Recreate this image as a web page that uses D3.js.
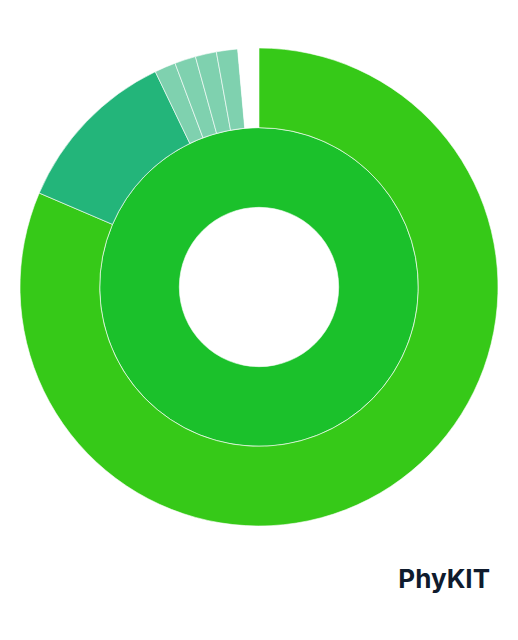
<!DOCTYPE html>
<html>
<head>
<meta charset="utf-8">
<script src="https://cdn.jsdelivr.net/npm/d3@7"></script>
<style>
  body { margin: 0; background: #fff; }
  svg { display: block; }
</style>
</head>
<body>
<div id="chart"></div>
<script>
// inner ring: one group; outer ring: its children
const innerName = 'root';
const innerColor = '#1bc12b';
const outerNames = ['a', 'b', 'c', 'd', 'e', 'f', 'g'];
const outerValues = [57, 8, 1, 1, 1, 1, 1];
const outerColors = ['#36c918', '#23b57a', '#7fd1af', '#7fd1af', '#7fd1af', '#7fd1af', '#ffffff'];

const width = 518, height = 640;
const cx = 259, cy = 287, radius = 239;

const svg = d3.select('#chart').append('svg')
    .attr('width', width)
    .attr('height', height);

const data = {
    name: 'top',
    children: [{
        name: innerName,
        color: innerColor,
        children: outerNames.map((n, i) => ({ name: n, value: outerValues[i], color: outerColors[i] }))
    }]
};

const root = d3.hierarchy(data).sum(d => d.value || 0);
d3.partition().size([2 * Math.PI, 3])(root);

const r = d3.scaleLinear().domain([0, 3]).range([0, radius]);

const arc = d3.arc()
    .startAngle(d => d.x0)
    .endAngle(d => d.x1)
    .innerRadius(d => r(d.y0))
    .outerRadius(d => r(d.y1));

const g = svg.append('g').attr('transform', `translate(${cx},${cy})`);

g.selectAll('path')
    .data(root.descendants().filter(d => d.depth > 0))
    .join('path')
    .attr('d', arc)
    .attr('fill', d => d.data.color)
    .attr('stroke', d => d.data.color === '#ffffff' ? 'none' : 'rgba(255,255,255,0.75)')
    .attr('stroke-width', 0.8);

svg.append('text')
    .attr('x', 490)
    .attr('y', 588)
    .attr('text-anchor', 'end')
    .style('font-family', 'Inter, "Noto Sans", sans-serif')
    .style('font-weight', 700)
    .style('font-size', '26px')
    .attr('fill', '#0f1b2d')
    .text('PhyKIT');
</script>
</body>
</html>
